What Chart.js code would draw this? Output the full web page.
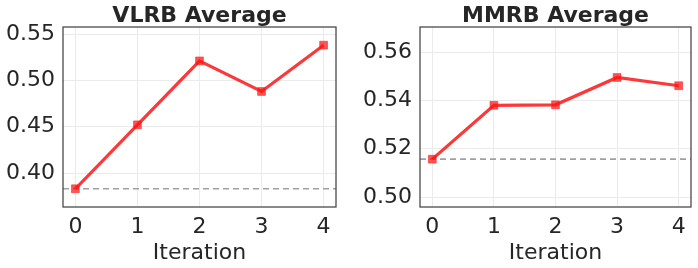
<!DOCTYPE html>
<html>
<head>
<meta charset="utf-8">
<script src="https://cdn.jsdelivr.net/npm/chart.js@4/dist/chart.umd.min.js"></script>
<style>
html,body{margin:0;padding:0;background:#fff;}
#wrap{position:relative;width:698px;height:268px;}
.cell{position:absolute;top:0;width:349px;height:268px;}
</style>
</head>
<body>
<div id="wrap">
  <div class="cell" style="left:0"><canvas id="c1" width="349" height="268"></canvas></div>
  <div class="cell" style="left:349px"><canvas id="c2" width="349" height="268"></canvas></div>
</div>
<script>
const iterations = [0, 1, 2, 3, 4];
const vlrbValues = [0.383, 0.452, 0.521, 0.488, 0.538];
const mmrbValues = [0.5157, 0.5380, 0.5382, 0.5495, 0.5461];
const vlrbBaseline = 0.383;
const mmrbBaseline = 0.5157;
const vlrbTicks = [0.40, 0.45, 0.50, 0.55];
const mmrbTicks = [0.50, 0.52, 0.54, 0.56];
const vlrbRange = [0.3633, 0.5576];
const mmrbRange = [0.4959, 0.5704];
const xRange = [-0.2, 4.2];

const FONT = "'DejaVu Sans', sans-serif";
const TXT = '#262626';

const framePlugin = {
  id: 'frame',
  afterDraw(chart) {
    const a = chart.chartArea, ctx = chart.ctx;
    ctx.save();
    ctx.strokeStyle = '#444444';
    ctx.lineWidth = 1.25;
    ctx.strokeRect(a.left, a.top, a.right - a.left, a.bottom - a.top);
    ctx.restore();
  }
};

function makeChart(id, title, values, baseline, ticks, yr, yw, padRight) {
  const pts = iterations.map((x, i) => ({x: x, y: values[i]}));
  return new Chart(document.getElementById(id), {
    type: 'line',
    data: {
      datasets: [
        {
          data: pts,
          borderColor: 'rgba(255,20,20,0.85)',
          borderWidth: 3.2,
          pointStyle: 'rect',
          pointRadius: 5.5,
          pointBorderWidth: 1,
          pointBorderColor: 'rgba(255,40,40,0.6)',
          pointBackgroundColor: 'rgba(255,20,20,0.72)',
          tension: 0,
          order: 0
        },
        {
          data: [{x: xRange[0], y: baseline}, {x: xRange[1], y: baseline}],
          borderColor: '#a0a0a0',
          borderWidth: 1.6,
          borderDash: [6, 4],
          pointRadius: 0,
          fill: false,
          order: 1
        }
      ]
    },
    options: {
      responsive: false,
      animation: false,
      events: [],
      layout: {padding: {left: 0, right: padRight, top: 0, bottom: 0}},
      plugins: {
        legend: {display: false},
        tooltip: {enabled: false},
        title: {
          display: true, text: title, color: TXT, fullSize: false,
          font: {family: FONT, size: 22, weight: 'bold', lineHeight: 1.0},
          padding: {top: 5, bottom: 0}
        }
      },
      scales: {
        x: {
          type: 'linear', min: xRange[0], max: xRange[1],
          afterBuildTicks: s => { s.ticks = iterations.map(v => ({value: v})); },
          afterFit: s => { s.height = 61; },
          grid: {color: '#ebebeb', lineWidth: 1, drawTicks: false},
          border: {display: false},
          ticks: {color: TXT, font: {family: FONT, size: 22}, padding: 7, maxRotation: 0,
                  callback: v => String(v)},
          title: {display: true, text: 'Iteration', color: TXT,
                  font: {family: FONT, size: 22}, padding: {top: 0, bottom: 2}}
        },
        y: {
          type: 'linear', min: yr[0], max: yr[1],
          afterBuildTicks: s => { s.ticks = ticks.map(v => ({value: v})); },
          afterFit: s => { s.width = yw; },
          grid: {color: '#ebebeb', lineWidth: 1, drawTicks: false},
          border: {display: false},
          ticks: {color: TXT, font: {family: FONT, size: 22}, padding: 8,
                  callback: v => Number(v).toFixed(2)}
        }
      }
    },
    plugins: [framePlugin]
  });
}

makeChart('c1', 'VLRB Average', vlrbValues, vlrbBaseline, vlrbTicks, vlrbRange, 63, 13);
makeChart('c2', 'MMRB Average', mmrbValues, mmrbBaseline, mmrbTicks, mmrbRange, 71, 7);
</script>
</body>
</html>
